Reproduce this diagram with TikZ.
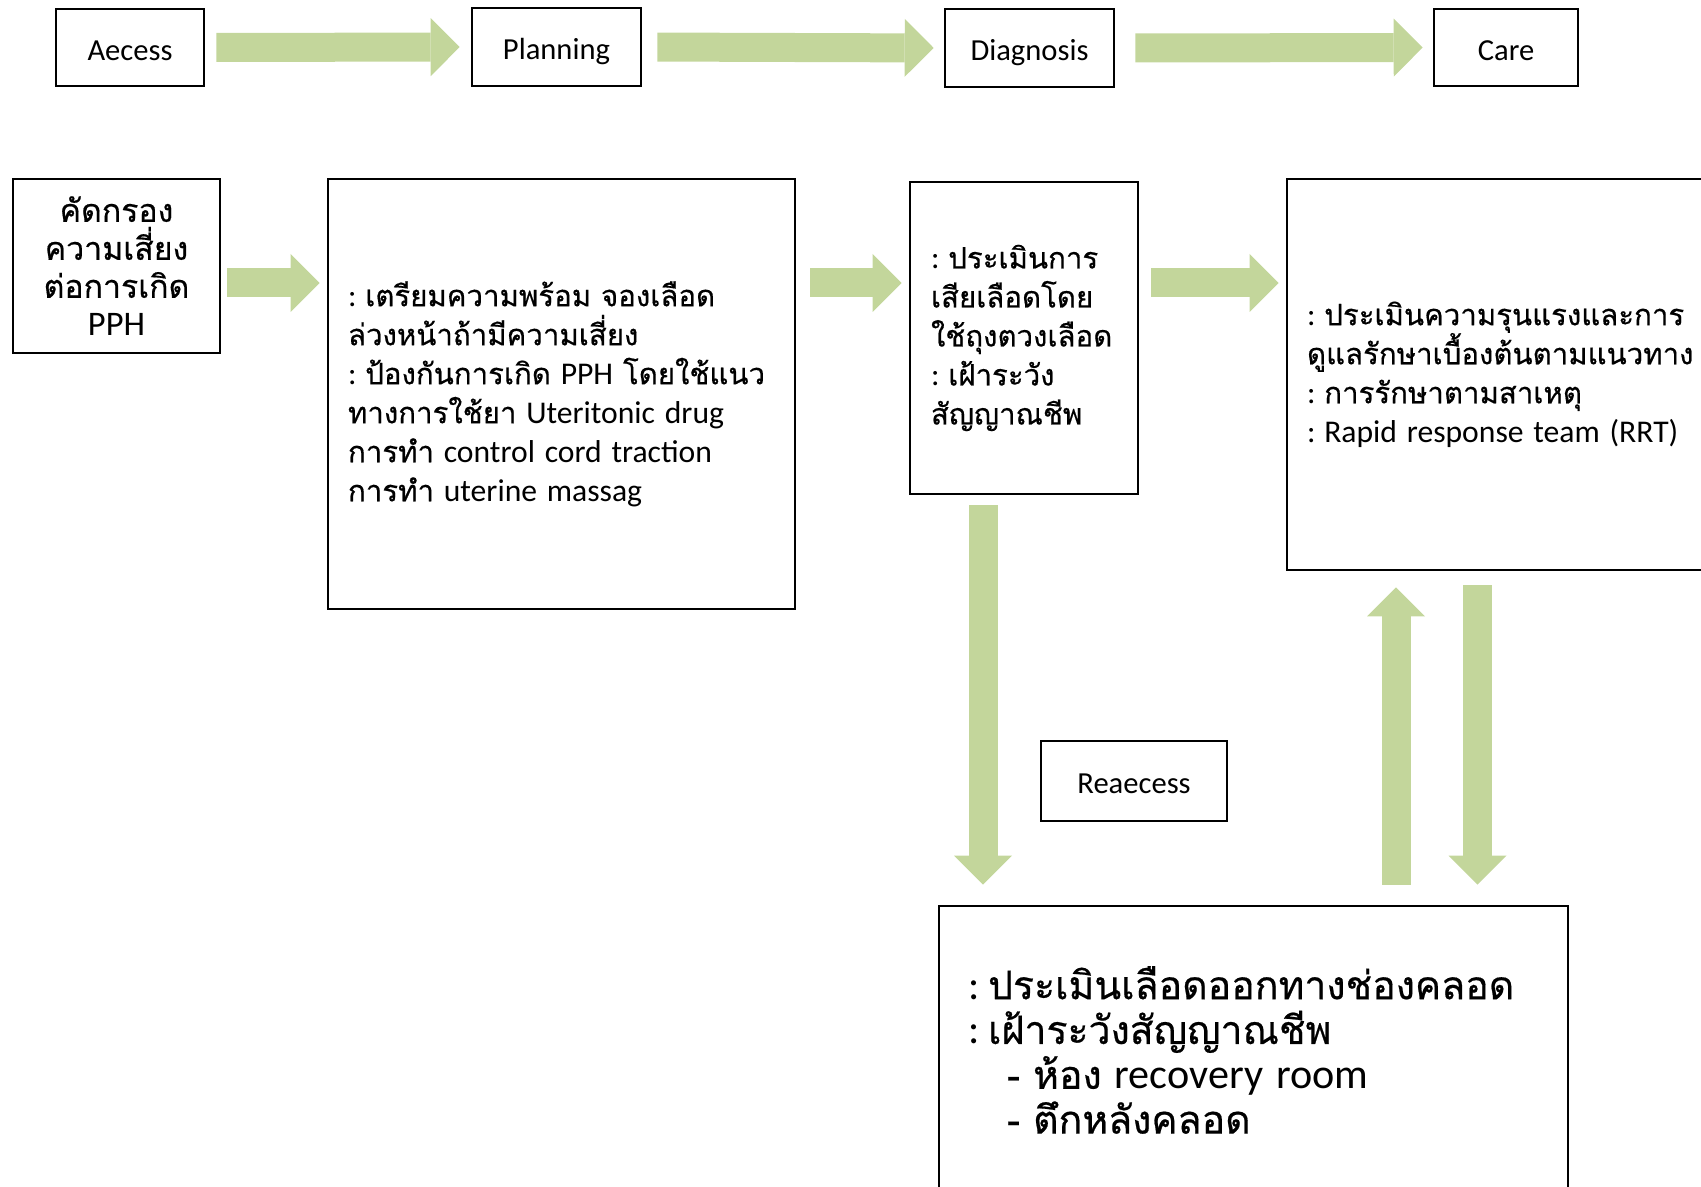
\documentclass[tikz,border=0pt]{standalone}
\usepackage{fontspec}
\setmainfont{Carlito}
\newfontfamily\thaifont[Script=Thai,Scale=0.93,WordSpace=0.6,FakeBold=0.5]{Loma}
\usetikzlibrary{arrows.meta}
\definecolor{flowgreen}{RGB}{195,214,155}
\newcommand\engtext[1]{{\normalfont #1}}
\newcommand\colonlead{\engtext{:}\hspace{2.5pt}}

\begin{document}
\begin{tikzpicture}[
  stage/.style={draw,line width=.75pt,inner sep=0pt,text height=1.5ex,text depth=0pt,font={\fontsize{8.7pt}{10pt}\selectfont}},
  note/.style={draw,line width=.75pt,inner xsep=2mm,inner ysep=0pt,align=left,font={\thaifont\fontsize{9pt}{11.1pt}\selectfont}},
  flow/.style={draw=flowgreen,line width=2.9mm,-{Triangle[length=2.9mm,width=5.8mm,line width=0pt]}}]
\useasboundingbox (0,0) rectangle (17.01,-11.87);
\node[stage,minimum width=1.48cm,minimum height=.77cm] (aecess) at (1.30,-.475) {Aecess};
\node[stage,minimum width=1.69cm,minimum height=.78cm] (planning) at (5.565,-.47) {Planning};
\node[stage,minimum width=1.69cm,minimum height=.78cm] (diagnosis) at (10.295,-.48) {Diagnosis};
\node[stage,minimum width=1.44cm,minimum height=.77cm] (care) at (15.06,-.475) {Care};
\draw[flow,shorten <=1.1mm,shorten >=1.1mm] (aecess.east) -- (planning.west);
\draw[flow,shorten <=1.5mm,shorten >=1mm] (planning.east) -- (diagnosis.west);
\draw[flow,shorten <=2mm,shorten >=1mm] (diagnosis.east) -- (care.west);
\node[note,align=center,text width=1.67cm,minimum height=1.74cm,font={\thaifont\fontsize{9.8pt}{10.8pt}\selectfont}] (screen) at (1.165,-2.66) {คัดกรอง\\ความเสี่ยง\\ต่อการเกิด\\\engtext{PPH}};
\node[note,text width=4.27cm,minimum height=4.30cm] (prepare) at (5.615,-3.94) {\colonlead เตรียมความพร้อม จองเลือด\\ล่วงหน้าถ้ามีความเสี่ยง\\\colonlead ป้องกันการเกิด \engtext{PPH} โดยใช้แนว\\ทางการใช้ยา \engtext{Uteritonic drug}\\การทำ \engtext{control cord traction}\\การทำ \engtext{uterine massag}};
\node[note,inner xsep=2.1mm,text width=1.86cm,minimum height=3.12cm] (bloodloss) at (10.24,-3.38) {\colonlead ประเมินการ\\เสียเลือดโดย\\ใช้ถุงตวงเลือด\\\colonlead เฝ้าระวัง\\สัญญาณชีพ};
\node[note,text width=4.2cm,minimum height=3.91cm] (severity) at (15.17,-3.745) {\colonlead ประเมินความรุนแรงและการ\\ดูแลรักษาเบื้องต้นตามแนวทาง\\\colonlead การรักษาตามสาเหตุ\\\colonlead\engtext{Rapid response team (RRT)}};
\coordinate (lane) at (0,-2.83);
\draw[flow,shorten <=.6mm,shorten >=.7mm] (screen.east |- lane) -- (prepare.west |- lane);
\draw[flow,shorten <=1.4mm,shorten >=.7mm] (prepare.east |- lane) -- (bloodloss.west |- lane);
\draw[flow,shorten <=1.2mm,shorten >=.7mm] (bloodloss.east |- lane) -- (severity.west |- lane);
\node[stage,minimum width=1.86cm,minimum height=.80cm] (reaecess) at (11.34,-7.81) {Reaecess};
\node[note,inner xsep=2.9mm,text width=5.71cm,minimum height=2.88cm,font={\thaifont\fontsize{12pt}{12.75pt}\selectfont}] (monitor) at (12.535,-10.5) {\colonlead ประเมินเลือดออกทางช่องคลอด\\\colonlead เฝ้าระวังสัญญาณชีพ\\\hspace*{3.9mm}- ห้อง \engtext{recovery room}\\\hspace*{3.9mm}- ตึกหลังคลอด};
\coordinate (drop) at (9.83,0);
\coordinate (rise) at (13.96,0);
\coordinate (back) at (14.775,0);
\draw[flow,shorten <=1mm,shorten >=2mm] (bloodloss.south -| drop) -- (monitor.north -| drop);
\draw[flow,shorten <=2mm,shorten >=1.6mm] (monitor.north -| rise) -- (severity.south -| rise);
\draw[flow,shorten <=1.4mm,shorten >=2mm] (severity.south -| back) -- (monitor.north -| back);
\end{tikzpicture}
\end{document}
